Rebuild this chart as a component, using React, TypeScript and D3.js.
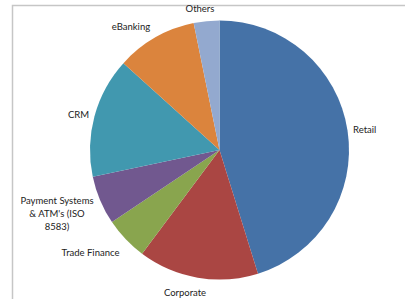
import { useMemo } from "react";
import { pie, arc } from "d3";

const categories = [
  "Retail",
  "Corporate",
  "Trade Finance",
  "Payment Systems & ATM's (ISO 8583)",
  "CRM",
  "eBanking",
  "Others",
];
const shares = [45.2, 15.0, 5.4, 6.1, 15.0, 10.1, 3.2];
const colors = ["#4572A7", "#AA4643", "#89A54E", "#71588F", "#4198AF", "#DB843D", "#93A9CF"];

// label lines and anchors (lines wrap like Excel's data labels)
const labelLines = [
  ["Retail"],
  ["Corporate"],
  ["Trade Finance"],
  ["Payment Systems", "& ATM's (ISO", "8583)"],
  ["CRM"],
  ["eBanking"],
  ["Others"],
];

const WIDTH = 405;
const HEIGHT = 299;
const CX = 219.5;
const CY = 150;
const R = 129.5;

// label placement: [x, baseline y of first line, anchor]
const labelPos: [number, number, "start" | "middle" | "end"][] = [
  [353, 133, "start"],
  [185, 296, "middle"],
  [90.5, 256, "middle"],
  [57, 204, "middle"],
  [78.5, 118, "middle"],
  [131, 30, "middle"],
  [200, 12, "middle"],
];

export default function App() {
  const slices = useMemo(
    () =>
      pie<number>()
        .sort(null)
        .value((d) => d)(shares),
    []
  );
  const arcGen = arc<any>().innerRadius(0).outerRadius(R);

  return (
    <svg
      width={WIDTH}
      height={HEIGHT}
      style={{ position: "absolute", left: 0, top: 0, background: "#fff" }}
      fontFamily="Lato, 'Open Sans', sans-serif"
    >
      <path d={`M12.5,${HEIGHT} V5.5 H${WIDTH}`} fill="none" stroke="#c6c6c6" strokeWidth={1.5} />
      <g transform={`translate(${CX},${CY})`}>
        {slices.map((s, i) => (
          <path key={categories[i]} d={arcGen(s) ?? ""} fill={colors[i]} />
        ))}
      </g>
      {labelLines.map((lines, i) => (
        <text
          key={categories[i]}
          x={labelPos[i][0]}
          y={labelPos[i][1]}
          textAnchor={labelPos[i][2]}
          fontSize={9.5}
          fill="#222"
        >
          {lines.map((ln, j) => (
            <tspan key={j} x={labelPos[i][0]} dy={j === 0 ? 0 : 13}>
              {ln}
            </tspan>
          ))}
        </text>
      ))}
    </svg>
  );
}
